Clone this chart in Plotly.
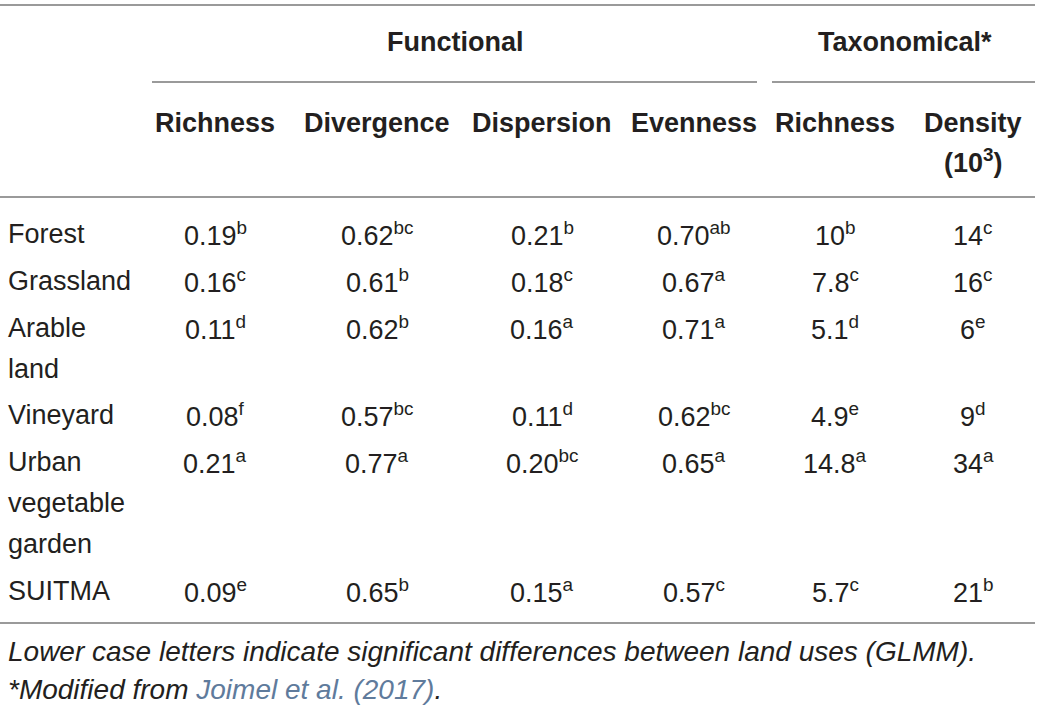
import plotly.graph_objects as go

# ---- table data ----
land_uses = ["Forest", "Grassland", "Arable<br>land", "Vineyard",
             "Urban<br>vegetable<br>garden", "SUITMA"]

col_headers = ["Richness", "Divergence", "Dispersion", "Evenness",
               "Richness", "Density<br>(10<sup>3</sup>)"]
group_headers = ["Functional", "Taxonomical*"]

func_richness = [0.19, 0.16, 0.11, 0.08, 0.21, 0.09]
func_richness_sig = ["b", "c", "d", "f", "a", "e"]
func_divergence = [0.62, 0.61, 0.62, 0.57, 0.77, 0.65]
func_divergence_sig = ["bc", "b", "b", "bc", "a", "b"]
func_dispersion = [0.21, 0.18, 0.16, 0.11, 0.20, 0.15]
func_dispersion_sig = ["b", "c", "a", "d", "bc", "a"]
func_evenness = [0.70, 0.67, 0.71, 0.62, 0.65, 0.57]
func_evenness_sig = ["ab", "a", "a", "bc", "a", "c"]
tax_richness = [10, 7.8, 5.1, 4.9, 14.8, 5.7]
tax_richness_sig = ["b", "c", "d", "e", "a", "c"]
tax_density = [14, 16, 6, 9, 34, 21]
tax_density_sig = ["c", "c", "e", "d", "a", "b"]

footnote_1 = "Lower case letters indicate significant differences between land uses (GLMM)."
footnote_2 = "*Modified from "
footnote_ref = "Joimel et al. (2017)"

# ---- layout / style ----
FONT = "Liberation Sans"
INK = "#231f20"
RULE = "#9a9a9a"
LINK = "#5f7b9c"
SIZE = 27

columns = [
    (func_richness, func_richness_sig, "{:.2f}"),
    (func_divergence, func_divergence_sig, "{:.2f}"),
    (func_dispersion, func_dispersion_sig, "{:.2f}"),
    (func_evenness, func_evenness_sig, "{:.2f}"),
    (tax_richness, tax_richness_sig, "{:g}"),
    (tax_density, tax_density_sig, "{:g}"),
]
col_x = [215, 377, 542, 694, 835, 973]
label_x = 6

fig = go.Figure()
# invisible trace so the axes exist
fig.add_trace(go.Scatter(x=[0, 1040], y=[0, 710], mode="markers",
                         marker=dict(opacity=0), hoverinfo="skip"))


def txt(x, y, s, anchor="center", bold=False, italic=False, color=INK, size=SIZE):
    if bold:
        s = f"<b>{s}</b>"
    if italic:
        s = f"<i>{s}</i>"
    fig.add_annotation(x=x, y=y, text=s, showarrow=False, xanchor=anchor,
                       yanchor="middle", align=anchor,
                       font=dict(family=FONT, size=size, color=color))


def rule(x0, x1, y):
    fig.add_shape(type="line", x0=x0, x1=x1, y0=y, y1=y,
                  line=dict(color=RULE, width=2))


# rules
rule(0, 1035, 5)
rule(152, 757, 82)
rule(772, 1035, 82)
rule(0, 1035, 197)
rule(0, 1035, 623)

# group headers
txt(455, 42, group_headers[0], bold=True)
txt(905, 42, group_headers[1], bold=True)

# column headers
for x, h in zip(col_x, col_headers):
    for k, p in enumerate(h.split("<br>")):
        txt(x, 123 + k * 38, p, bold=True)

# body rows
y = 234
line_gap = 41
row_gap = 46.8
for i, lu in enumerate(land_uses):
    lines = lu.split("<br>")
    for k, p in enumerate(lines):
        txt(label_x, y + k * line_gap, p, anchor="left")
    for x, (vals, sig, fmt) in zip(col_x, columns):
        txt(x, y, fmt.format(vals[i]) + f"<sup>{sig[i]}</sup>")
    y += (len(lines) - 1) * line_gap + row_gap

# footnotes
txt(label_x, 651, footnote_1, anchor="left", italic=True, size=28)
txt(label_x, 689,
    f"<i>{footnote_2}<span style='color:{LINK}'>{footnote_ref}</span>.</i>",
    anchor="left", size=28)

fig.update_layout(
    width=1040, height=710,
    margin=dict(l=0, r=0, t=0, b=0),
    plot_bgcolor="white", paper_bgcolor="white",
    showlegend=False,
    xaxis=dict(range=[0, 1040], visible=False, fixedrange=True),
    yaxis=dict(range=[710, 0], visible=False, fixedrange=True),
)

fig.write_html("out.html", config=dict(displayModeBar=False),
               post_script="document.body.style.margin='0';")
